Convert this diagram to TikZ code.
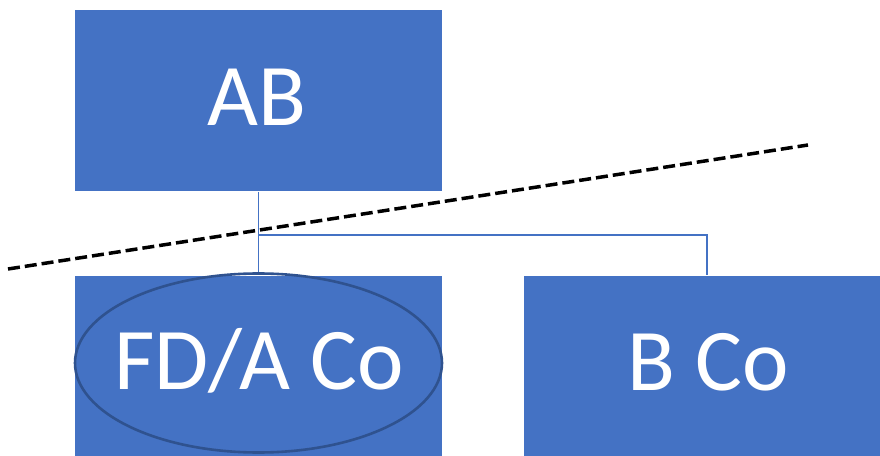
\documentclass[tikz,border=0pt]{standalone}
\usepackage{fontspec}
\setmainfont{Carlito}
\usetikzlibrary{shapes.geometric}
\definecolor{boxblue}{HTML}{4472C4}
\definecolor{ovalblue}{HTML}{2F528F}
\begin{document}
\begin{tikzpicture}[x=1pt,y=1pt,
  orgbox/.style={rectangle, fill=boxblue, draw=white, line width=0.6pt,
    minimum width=368pt, minimum height=182pt, inner sep=0pt},
  boxtext/.style={anchor=base, text=white, inner sep=0pt,
    font=\fontsize{88}{100}\selectfont},
  link/.style={draw=boxblue, line width=1.6pt},
  cutline/.style={draw=black, line width=3.5pt, dash pattern=on 12pt off 5pt}]
\useasboundingbox (0,0) rectangle (880,455);

% boxes (the lower row runs past the bottom edge)
\node[orgbox] (ab) at (258,354.5) {};
\node[orgbox, minimum height=190pt] (fd) at (258,85) {};
\node[orgbox, minimum height=190pt] (bco) at (707,85) {};

% oval around the first subsidiary
\node[ellipse, draw=ovalblue, line width=2.6pt, minimum width=367pt,
  minimum height=179pt, inner sep=0pt] (oval) at (258.5,92) {};

% labels
\node[boxtext] (abtxt) at (257,329) {AB};
\node[boxtext] (fdtxt) at (259,66) {FD/A Co};
\node[boxtext] (bcotxt) at (708,65) {B Co};

% ownership connectors
\coordinate (split) at (258.5,220);
\draw[link] (ab.south -| split) -- (oval.north);
\draw[link] (split) -| (bco.north);

% dashed cut line
\coordinate (cutL) at (8,186);
\coordinate (cutR) at (808,310);
\draw[cutline] (cutL) -- (cutR);
\end{tikzpicture}
\end{document}
